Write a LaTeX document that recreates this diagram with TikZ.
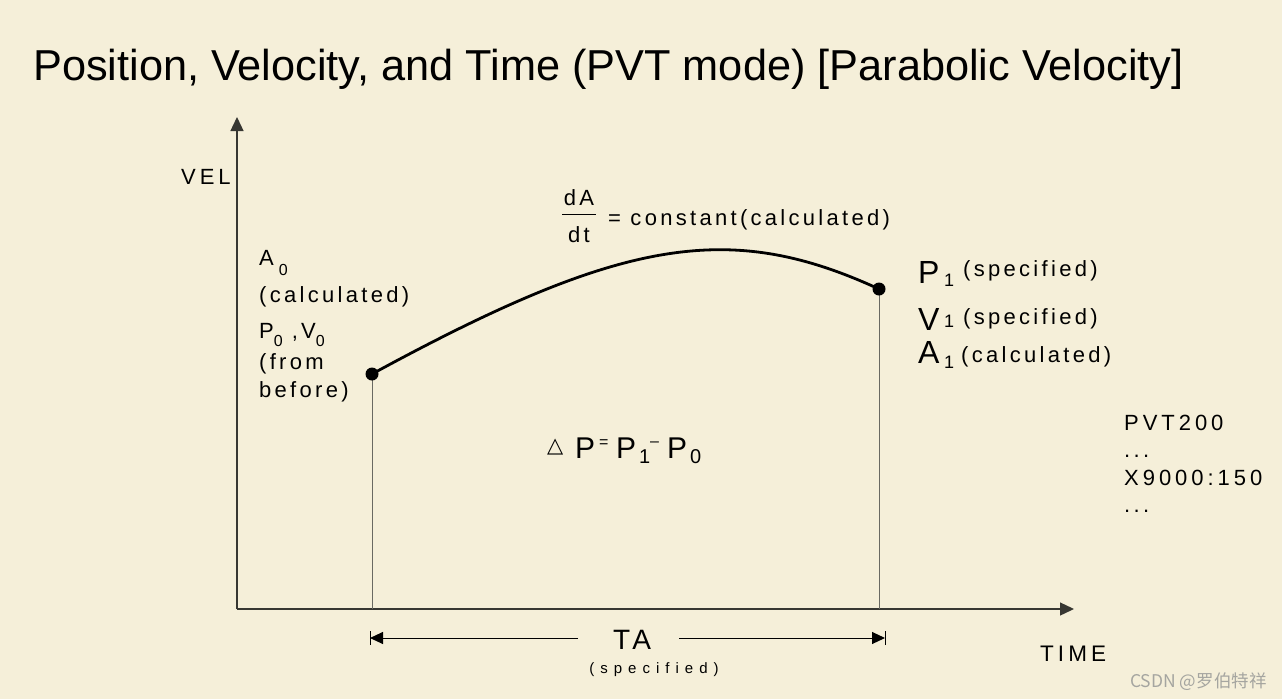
\documentclass[tikz,border=0pt]{standalone}
\usepackage{fontspec}
\setmainfont{Liberation Sans}
\newfontfamily\lsp[LetterSpace=15]{Liberation Sans}
\newfontfamily\lspm[LetterSpace=18]{Liberation Sans}
\newfontfamily\lspw[LetterSpace=40]{Liberation Sans}
\newfontfamily\symf{DejaVu Sans}
\newfontfamily\cjkf{Noto Sans CJK SC}
\usetikzlibrary{arrows.meta}
\definecolor{bgc}{RGB}{245,239,217}
\definecolor{axisc}{RGB}{55,55,50}
\definecolor{vlinec}{RGB}{105,105,98}
\definecolor{wmc}{RGB}{165,165,160}
\newcommand{\subf}{\fontsize{16}{16}\selectfont}
\begin{document}
\begin{tikzpicture}[x=1pt,y=-1pt,
  lbl/.style={anchor=base west,inner sep=0pt,font=\lsp\fontsize{22}{26}\selectfont},
  lblm/.style={anchor=base west,inner sep=0pt,font=\lspm\fontsize{22}{26}\selectfont},
  bigl/.style={anchor=base west,inner sep=0pt,font=\fontsize{32}{36}\selectfont},
  subl/.style={anchor=base west,inner sep=0pt,font=\fontsize{18}{20}\selectfont},
  eqbig/.style={anchor=base west,inner sep=0pt,font=\fontsize{30}{34}\selectfont},
  eqsub/.style={anchor=base west,inner sep=0pt,font=\fontsize{20}{22}\selectfont},
  eqop/.style={anchor=base west,inner sep=0pt,font=\fontsize{16}{18}\selectfont},
  axisline/.style={draw=axisc,line width=1.3pt,-{Triangle[length=14pt,width=13pt]}},
  vline/.style={draw=vlinec,line width=1pt},
  curveline/.style={draw=black,line width=2.8pt},
  dotc/.style={circle,fill=black,inner sep=0pt,minimum size=13pt},
  dimline/.style={draw=black,line width=1pt,-{Triangle[length=13pt,width=12pt]}},
]
\fill[bgc] (0,0) rectangle (1282,699);
\useasboundingbox (0,0) rectangle (1282,699);

% title
\node[anchor=base west,inner sep=0pt,font=\fontsize{43.3}{50}\selectfont] (title) at (33,80)
  {Position, Velocity, and Time (PVT mode) [Parabolic Velocity]};

% axes
\coordinate (O) at (237,609);
\coordinate (ytop) at (237,117);
\coordinate (xend) at (1074,609);
\draw[axisline] (O) -- (ytop);
\draw[axisline] (O) -- (xend);
\node[lblm] (vel) at (181,184) {VEL};
\node[anchor=base west,inner sep=0pt,font=\lspm\fontsize{22.5}{26}\selectfont] (time) at (1040,661) {TIME};

% points and curve
\coordinate (d0) at (372,374);
\coordinate (d1) at (879,289);
\coordinate (c1) at (622,238);
\coordinate (c2) at (729,220);
\draw[vline] (d0) -- (d0 |- O);
\draw[vline] (d1) -- (d1 |- O);
\draw[curveline] (d0) .. controls (c1) and (c2) .. (d1);
\node[dotc] (dot0) at (d0) {};
\node[dotc] (dot1) at (d1) {};

% left labels
\node[lbl] (a0) at (259,265) {A\hspace{5pt}\raisebox{-10pt}{\subf 0}};
\node[lbl] (calc0) at (259,302) {(calculated)};
\node[lbl] (pv0) at (259,338) {P\raisebox{-8pt}{\subf 0}\hspace{9pt},V\raisebox{-8pt}{\subf 0}};
\node[lbl] (from) at (259,369) {(from};
\node[lbl] (before) at (259,397) {before)};

% dA/dt
\node[lbl,anchor=base] (dA) at (579,205) {dA};
\node[lbl,anchor=base] (dt) at (579,242) {dt};
\draw[line width=0.8pt] (562,214) -- (596,214);
\node[lbl] (const) at (608,225) {= constant(calculated)};

% right labels
\node[bigl] (p1) at (918,283) {P};
\node[subl] (p1s) at (944,286) {1};
\node[lbl] (p1t) at (963,276) {(specified)};
\node[bigl] (v1) at (918,330) {V};
\node[subl] (v1s) at (944,327) {1};
\node[lbl] (v1t) at (963,324) {(specified)};
\node[bigl] (a1) at (918,363) {A};
\node[subl] (a1s) at (944,368) {1};
\node[lbl] (a1t) at (961,362) {(calculated)};

% delta P
\node[anchor=base west,inner sep=0pt,font=\symf\fontsize{21}{24}\selectfont] (tri) at (547,452) {△};
\node[eqbig] (pa) at (575,458) {P};
\node[eqop] (eqs) at (599,447) {=};
\node[eqbig] (pb) at (616,458) {P};
\node[eqsub] (pbs) at (639,463) {1};
\node[eqop] (mns) at (650,446) {–};
\node[eqbig] (pc) at (667,458) {P};
\node[eqsub] (pcs) at (690,463) {0};

% PVT text
\node[lblm] (pvt) at (1124,430) {PVT200};
\node[lbl] (dots1) at (1124,457) {...};
\node[lblm] (x9) at (1124,485) {X9000:150};
\node[lbl] (dots2) at (1124,512) {...};

% TA dimension
\node[anchor=base,inner sep=0pt,font=\lsp\fontsize{28}{30}\selectfont] (ta) at (632,649) {TA};
\node[anchor=base,inner sep=0pt,font=\lspw\fontsize{15}{17}\selectfont] (tas) at (654,673) {(specified)};
\coordinate (tal) at (370,638);
\coordinate (tar) at (885,638);
\coordinate (gl) at (578,638);
\coordinate (gr) at (679,638);
\draw[dimline] (gl) -- (tal);
\draw[dimline] (gr) -- (tar);
\draw[line width=1pt] ([yshift=-7pt]tal) -- ([yshift=7pt]tal);
\draw[line width=1pt] ([yshift=-7pt]tar) -- ([yshift=7pt]tar);

% watermark
\node[anchor=base west,inner sep=0pt,text=wmc,font=\cjkf\fontsize{17.5}{19}\selectfont] (wm) at (1130,687) {CSDN @罗伯特祥};
\end{tikzpicture}
\end{document}
